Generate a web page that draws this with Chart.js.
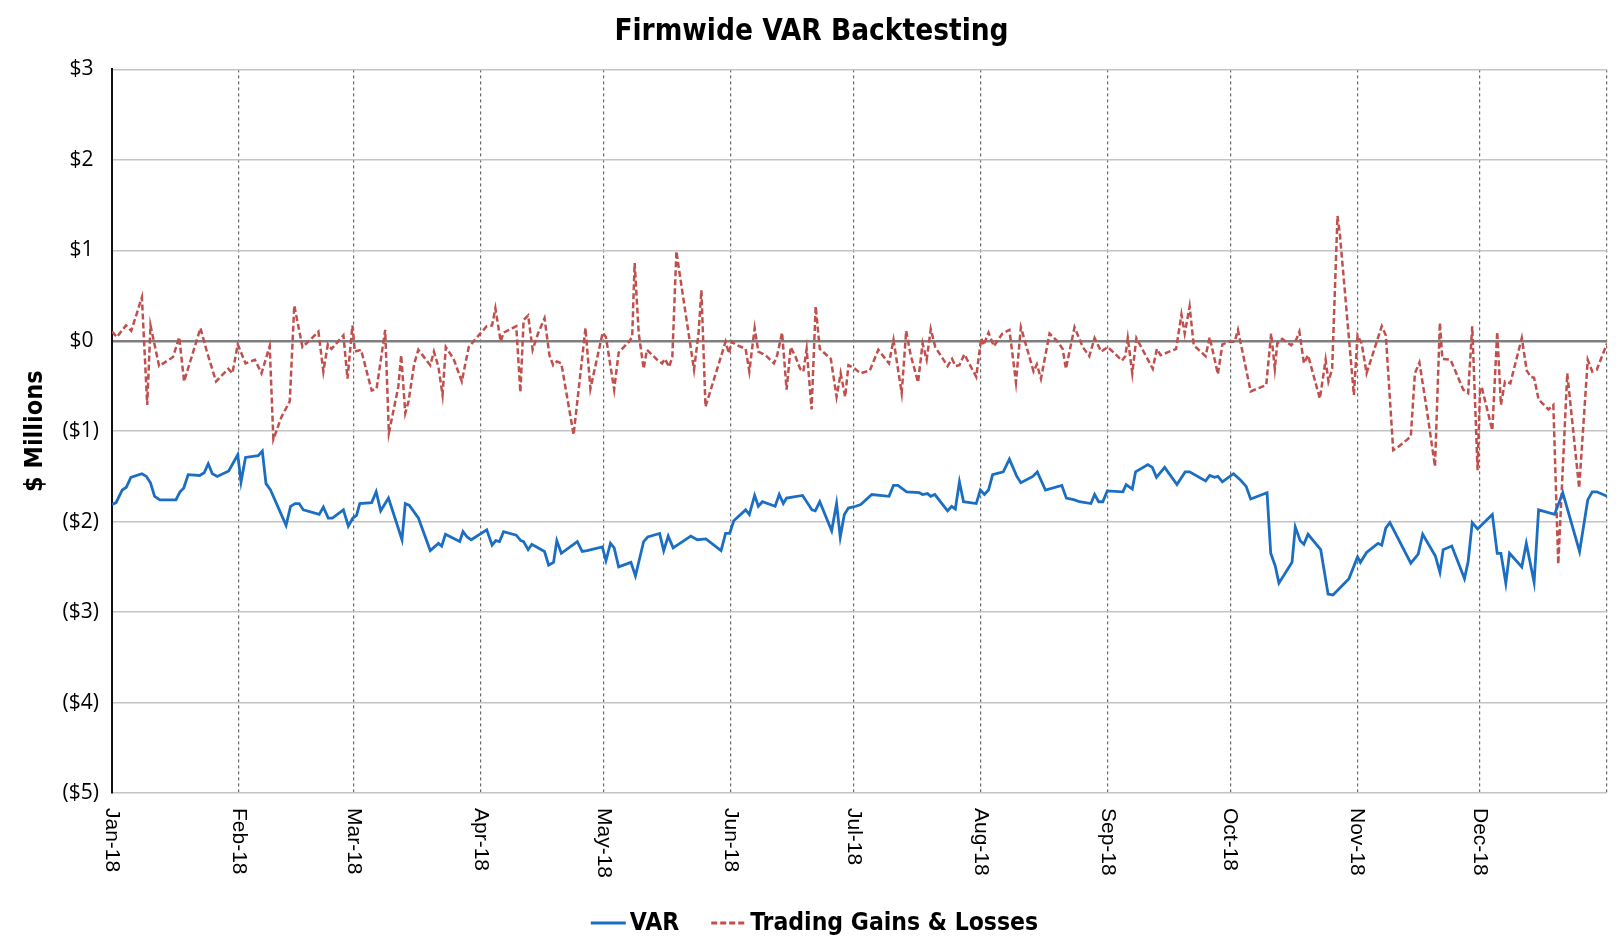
<!DOCTYPE html>
<html>
<head>
<meta charset="utf-8">
<script src="https://cdn.jsdelivr.net/npm/chart.js@4.4.1/dist/chart.umd.min.js"></script>
<style>
html,body{margin:0;padding:0;background:#fff;}
#wrap{width:1623px;height:952px;position:relative;}
</style>
</head>
<body>
<div id="wrap"><canvas id="c"></canvas></div>
<script>
// ---------- data (x = day of year 2018, 0 = 1 Jan) ----------
const chartTitle = 'Firmwide VAR Backtesting';
const yAxisTitle = '$ Millions';
const monthLabels = ['Jan-18','Feb-18','Mar-18','Apr-18','May-18','Jun-18','Jul-18','Aug-18','Sep-18','Oct-18','Nov-18','Dec-18'];
const monthStarts = [0,31,59,90,120,151,181,212,243,273,304,334,365];
const yMin = -5, yMax = 3, yStep = 1;

const varLabel = 'VAR';
const varDays = [0,1,2.5,3.5,4.6,7.3,8.4,9.4,10.4,11.7,15.6,16.6,17.5,18.6,21.4,22.5,23.5,24.5,25.7,28.5,30.7,31.5,32.6,35.7,36.7,37.6,38.7,42.5,43.6,44.7,45.7,46.7,50.6,51.6,52.8,53.8,56.5,57.7,58.8,59.7,60.5,63.4,64.5,65.6,67.5,70.8,71.6,72.6,74.8,77.7,79.7,80.5,81.4,84.9,85.7,86.7,87.7,91.5,92.8,93.7,94.6,95.6,98.7,99.8,100.5,101.6,102.5,105.6,106.6,107.8,108.6,109.7,113.6,114.8,116.0,119.7,120.6,121.7,122.6,123.7,126.7,127.8,129.8,130.8,133.7,134.7,135.8,137.0,141.3,142.9,145.0,148.7,149.8,150.8,151.8,154.7,155.6,156.9,157.8,158.8,161.9,162.9,163.9,164.7,168.6,170.9,171.7,172.8,175.7,176.9,177.8,178.8,179.8,181.6,182.8,185.5,189.7,190.8,191.9,194.0,197.1,197.9,199.1,199.9,200.9,204.0,205.0,205.9,206.9,207.9,211.0,212.0,213.0,214.0,215.0,217.6,219.1,220.9,221.9,224.8,225.9,227.9,231.9,233.0,235.0,236.2,239.0,239.9,240.9,241.9,243.0,246.8,247.6,249.1,249.9,252.9,254.0,255.0,257.0,260.0,262.0,263.1,267.0,268.0,269.2,270.0,271.1,273.8,275.5,276.9,278.0,282.0,282.9,284.0,284.9,288.1,288.9,290.1,291.0,292.0,295.1,296.9,298.1,302.0,304.1,304.8,306.3,309.1,310.0,311.0,312.0,317.1,318.9,320.0,323.1,324.2,325.0,327.1,330.2,331.1,332.1,333.4,337.0,338.2,339.1,340.3,341.2,344.2,345.3,347.2,348.3,352.2,354.2,358.3,360.3,361.4,362.5,365];
const varValues = [-1.81,-1.79,-1.65,-1.62,-1.51,-1.47,-1.50,-1.57,-1.72,-1.76,-1.76,-1.67,-1.63,-1.48,-1.49,-1.46,-1.36,-1.47,-1.50,-1.44,-1.26,-1.56,-1.29,-1.27,-1.22,-1.58,-1.65,-2.04,-1.83,-1.80,-1.80,-1.87,-1.92,-1.84,-1.96,-1.96,-1.87,-2.05,-1.96,-1.93,-1.80,-1.79,-1.67,-1.88,-1.74,-2.20,-1.80,-1.82,-1.96,-2.32,-2.24,-2.27,-2.14,-2.22,-2.11,-2.17,-2.20,-2.09,-2.26,-2.21,-2.22,-2.11,-2.15,-2.21,-2.22,-2.31,-2.25,-2.33,-2.48,-2.45,-2.21,-2.35,-2.22,-2.33,-2.32,-2.28,-2.43,-2.24,-2.29,-2.50,-2.45,-2.60,-2.22,-2.17,-2.13,-2.32,-2.16,-2.29,-2.16,-2.20,-2.19,-2.32,-2.13,-2.13,-1.99,-1.87,-1.92,-1.71,-1.83,-1.78,-1.83,-1.70,-1.80,-1.74,-1.71,-1.87,-1.88,-1.78,-2.10,-1.80,-2.17,-1.92,-1.85,-1.83,-1.81,-1.70,-1.72,-1.60,-1.60,-1.67,-1.68,-1.70,-1.69,-1.72,-1.70,-1.88,-1.83,-1.86,-1.56,-1.78,-1.80,-1.65,-1.70,-1.65,-1.48,-1.45,-1.31,-1.50,-1.57,-1.50,-1.45,-1.65,-1.60,-1.74,-1.76,-1.78,-1.80,-1.70,-1.78,-1.78,-1.66,-1.67,-1.59,-1.64,-1.45,-1.37,-1.40,-1.51,-1.40,-1.59,-1.45,-1.45,-1.55,-1.49,-1.51,-1.50,-1.56,-1.47,-1.54,-1.61,-1.75,-1.68,-2.35,-2.49,-2.68,-2.45,-2.06,-2.21,-2.25,-2.14,-2.31,-2.80,-2.81,-2.63,-2.39,-2.45,-2.34,-2.24,-2.26,-2.07,-2.01,-2.46,-2.36,-2.14,-2.38,-2.56,-2.31,-2.27,-2.63,-2.44,-2.01,-2.08,-1.92,-2.35,-2.35,-2.68,-2.35,-2.50,-2.24,-2.67,-1.87,-1.92,-1.68,-2.33,-1.76,-1.67,-1.67,-1.72];

const pnlLabel = 'Trading Gains & Losses';
const pnlDays = [0,1.2,3.4,4.7,7.3,8.6,9.4,11.5,14.9,16.4,17.6,21.6,23.1,25.4,28.4,29.4,30.7,32.6,34.9,36.5,38.5,39.4,41.4,43.4,44.5,46.5,47.9,50.4,51.6,52.7,53.6,56.5,57.5,58.7,59.3,60.0,60.8,63.4,64.6,66.7,67.6,69.9,70.6,71.6,72.4,73.8,74.8,77.7,78.6,79.7,80.7,81.5,83.4,85.4,87.1,89.9,91.5,92.8,93.6,94.9,95.6,98.7,99.7,100.5,101.6,102.7,104.0,105.6,106.8,107.7,108.6,109.7,112.7,115.6,116.8,119.8,120.6,122.6,123.7,126.2,127.0,127.6,128.6,129.8,130.6,133.1,134.3,135.0,136.0,136.8,137.8,138.4,142.1,143.2,143.9,144.9,149.4,149.8,150.6,151.3,152.2,154.7,155.6,156.9,157.8,159.6,161.6,162.4,163.6,164.7,165.7,166.9,168.0,168.8,169.6,170.8,171.8,172.8,175.5,176.9,177.9,179.0,179.8,181.4,182.7,185.0,187.1,189.7,190.8,192.8,193.9,195.0,196.8,197.9,198.9,199.9,201.0,204.0,205.1,205.9,206.9,208.1,211.0,212.2,212.8,214.0,215.3,217.4,219.1,220.7,221.9,225.0,225.8,226.8,228.9,230.7,232.1,232.9,235.0,237.0,238.6,239.9,241.5,243.1,244.8,246.6,247.4,248.0,249.1,250.1,254.1,255.1,256.0,259.8,261.1,261.9,263.1,264.1,267.0,268.0,270.0,271.1,272.9,274.1,274.9,275.5,278.0,281.8,283.0,283.9,284.5,285.7,287.9,289.1,289.9,291.0,292.0,294.9,296.3,297.0,297.9,299.2,299.8,303.2,304.1,305.1,306.3,310.0,311.0,312.8,313.6,317.1,318.1,319.2,320.9,323.0,324.2,324.8,326.8,329.9,331.1,332.1,333.4,334.0,334.4,337.0,338.2,339.1,340.1,341.4,344.2,345.4,346.4,347.2,348.3,350.7,351.9,353.1,355.3,358.2,360.3,361.4,362.5,365];
const pnlValues = [0.10,0.04,0.17,0.11,0.48,-0.71,0.17,-0.28,-0.18,0.04,-0.45,0.14,-0.11,-0.45,-0.31,-0.36,-0.04,-0.25,-0.21,-0.36,-0.06,-1.09,-0.84,-0.67,0.39,-0.07,-0.01,0.10,-0.34,-0.04,-0.09,0.06,-0.42,0.17,-0.12,-0.11,-0.10,-0.55,-0.53,0.12,-1.02,-0.51,-0.16,-0.80,-0.67,-0.25,-0.10,-0.27,-0.12,-0.29,-0.60,-0.07,-0.20,-0.45,-0.07,0.08,0.16,0.17,0.36,-0.01,0.09,0.16,-0.57,0.23,0.28,-0.10,0.08,0.25,-0.16,-0.27,-0.23,-0.25,-1.04,0.14,-0.53,0.09,0.04,-0.54,-0.13,-0.01,0.04,0.86,0.08,-0.31,-0.10,-0.21,-0.25,-0.20,-0.29,-0.18,0.99,0.80,-0.32,0.08,0.56,-0.73,-0.07,-0.01,-0.14,-0.01,-0.04,-0.09,-0.34,0.14,-0.12,-0.16,-0.25,-0.16,0.09,-0.54,-0.07,-0.18,-0.31,-0.34,-0.09,-0.76,0.38,-0.09,-0.20,-0.62,-0.36,-0.62,-0.27,-0.31,-0.36,-0.33,-0.10,-0.25,0.01,-0.58,0.11,-0.16,-0.46,-0.03,-0.21,0.13,-0.07,-0.28,-0.20,-0.28,-0.27,-0.15,-0.40,0.03,-0.05,0.09,-0.06,0.08,0.12,-0.46,0.15,-0.34,-0.26,-0.42,0.08,0.00,-0.09,-0.31,0.15,-0.07,-0.17,0.03,-0.12,-0.07,-0.14,-0.22,-0.17,0.03,-0.36,0.03,-0.31,-0.09,-0.16,-0.09,0.29,0.08,0.38,-0.05,-0.17,0.04,-0.37,-0.04,-0.01,-0.01,0.12,-0.01,-0.56,-0.49,0.08,-0.31,-0.03,0.02,-0.05,0.01,0.10,-0.25,-0.16,-0.64,-0.21,-0.45,-0.31,1.38,1.17,-0.60,0.06,-0.03,-0.36,0.16,0.06,-1.21,-1.19,-1.06,-0.36,-0.24,-0.73,-1.39,0.20,-0.20,-0.21,-0.54,-0.58,0.16,-1.43,-0.53,-0.51,-0.99,0.10,-0.71,-0.45,-0.47,0.03,-0.33,-0.40,-0.41,-0.65,-0.76,-0.71,-2.47,-0.36,-1.63,-0.21,-0.34,-0.32,-0.03];

// ---------- styling ----------
const BOLD_FAMILY = "'DejaVu Sans Condensed', 'Liberation Sans Narrow', 'DejaVu Sans', sans-serif";
const VAR_COLOR = '#1b6ec2';
const PNL_COLOR = '#c0504d';

const toPoints = (xs, ys) => xs.map((x, i) => ({x: x, y: ys[i]}));

const customDraw = {
  id: 'customDraw',
  afterDraw(chart) {
    const ctx = chart.ctx;
    const xs = chart.scales.x;
    const area = chart.chartArea;
    // rotated month labels (reading top to bottom)
    ctx.save();
    ctx.fillStyle = '#000';
    ctx.font = "21px 'Liberation Sans', Arial, sans-serif";
    ctx.textAlign = 'left';
    ctx.textBaseline = 'middle';
    monthLabels.forEach((lab, i) => {
      const px = xs.getPixelForValue(monthStarts[i]);
      ctx.save();
      ctx.translate(px, area.bottom + 15);
      ctx.rotate(Math.PI / 2);
      ctx.fillText(lab, 0, 0);
      ctx.restore();
    });
    ctx.restore();

    // legend
    ctx.save();
    ctx.font = "bold 24.5px " + BOLD_FAMILY;
    ctx.textBaseline = 'middle';
    ctx.textAlign = 'left';
    const boxW = 35, gap = 4, spacing = 32;
    const items = chart.data.datasets.map(ds => ({text: ds.label, color: ds.borderColor, dash: ds.borderDash || [], w: ctx.measureText(ds.label).width}));
    let total = 0;
    items.forEach((it, i) => { total += boxW + gap + it.w + (i < items.length - 1 ? spacing : 0); });
    let x = chart.width / 2 - total / 2 + 3;
    const y = 923;
    items.forEach(it => {
      ctx.beginPath();
      ctx.strokeStyle = it.color;
      ctx.lineWidth = 3;
      ctx.setLineDash(it.dash);
      ctx.moveTo(x, y);
      ctx.lineTo(x + boxW, y);
      ctx.stroke();
      ctx.setLineDash([]);
      ctx.fillStyle = '#000';
      ctx.fillText(it.text, x + boxW + gap, y + 1);
      x += boxW + gap + it.w + spacing;
    });
    ctx.restore();
  }
};

new Chart(document.getElementById('c'), {
  type: 'line',
  data: {
    datasets: [
      {label: varLabel, data: toPoints(varDays, varValues), borderColor: VAR_COLOR, backgroundColor: VAR_COLOR, borderWidth: 2.8, pointRadius: 0, tension: 0, fill: false},
      {label: pnlLabel, data: toPoints(pnlDays, pnlValues), borderColor: PNL_COLOR, backgroundColor: PNL_COLOR, borderWidth: 2.5, borderDash: [6, 3], pointRadius: 0, tension: 0, fill: false}
    ]
  },
  options: {
    responsive: true,
    maintainAspectRatio: false,
    animation: false,
    layout: {padding: {left: 16, right: 16, top: 0, bottom: 0}},
    plugins: {
      legend: {display: false},
      tooltip: {enabled: false},
      title: {
        display: true,
        text: chartTitle,
        color: '#000',
        font: {family: BOLD_FAMILY, size: 29.5, weight: 'bold'},
        padding: {top: 15, bottom: 19}
      }
    },
    scales: {
      x: {
        type: 'linear',
        min: monthStarts[0],
        max: monthStarts[monthStarts.length - 1],
        afterBuildTicks: s => { s.ticks = monthStarts.map(v => ({value: v})); },
        afterFit: s => { s.height = 159; },
        ticks: {display: false},
        grid: {color: '#6a6a6a', lineWidth: 1.2, drawTicks: false, borderDash: [3, 3]},
        border: {display: false, dash: [3, 3]}
      },
      y: {
        min: yMin,
        max: yMax,
        afterFit: s => { s.width = 96; },
        ticks: {
          stepSize: yStep,
          color: '#000',
          padding: 13,
          font: {family: "'Open Sans', sans-serif", size: 21},
          callback: v => v < 0 ? '($' + (-v) + ')' : '$' + v + ' '
        },
        grid: {
          drawTicks: false,
          color: c => (c.tick && c.tick.value === 0) ? '#7f7f7f' : '#c4c4c4',
          lineWidth: c => (c.tick && c.tick.value === 0) ? 2.4 : 1.5
        },
        border: {display: true, color: '#111', width: 2},
        title: {
          display: true,
          text: yAxisTitle,
          color: '#000',
          font: {family: BOLD_FAMILY, size: 25, weight: 'bold'},
          padding: {top: 4, bottom: 0}
        }
      }
    }
  },
  plugins: [customDraw]
});
</script>
</body>
</html>
